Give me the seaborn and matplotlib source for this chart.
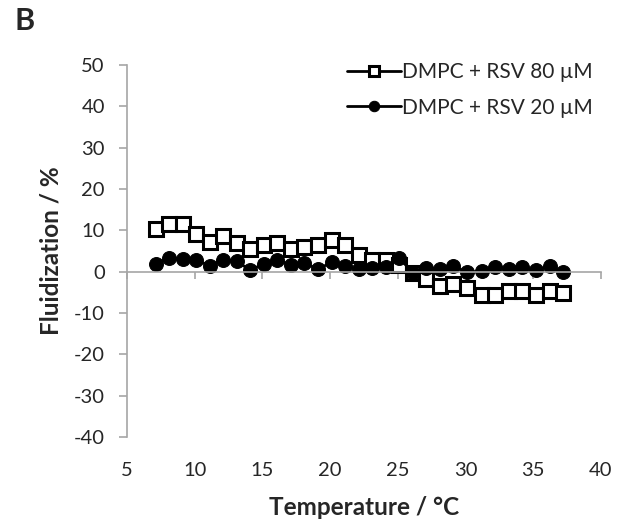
"""
Fluidization vs temperature, DMPC + RSV (panel B).
"""

import pandas as pd
import matplotlib
matplotlib.use("Agg")
import matplotlib.pyplot as plt
import seaborn as sns

# data
temperature = [7.1, 8.1, 9.1, 10.1, 11.1, 12.1, 13.1, 14.1, 15.1, 16.1,
               17.1, 18.1, 19.1, 20.1, 21.1, 22.1, 23.1, 24.1, 25.1, 26.1,
               27.1, 28.1, 29.1, 30.1, 31.2, 32.2, 33.2, 34.2, 35.2, 36.2, 37.2]
rsv80 = [10.2, 11.4, 11.4, 9.0, 7.1, 8.5, 6.9, 5.5, 6.5, 6.9,
         5.5, 6.0, 6.5, 7.7, 6.5, 4.1, 2.9, 2.7, 1.5, -0.4,
         -1.9, -3.4, -3.1, -3.9, -5.6, -5.6, -4.8, -4.8, -5.8, -4.8, -5.3]
rsv20 = [1.9, 3.3, 3.1, 2.9, 1.3, 2.9, 2.5, 0.3, 1.9, 2.9,
         1.5, 2.1, 0.5, 2.3, 1.3, 0.5, 0.9, 1.0, 3.3, -0.3,
         0.9, 0.5, 1.3, -0.2, 0.1, 1.1, 0.7, 1.0, 0.3, 1.3, -0.2]
labels = ["DMPC + RSV 80 µM", "DMPC + RSV 20 µM"]
xticks = [5, 10, 15, 20, 25, 30, 35, 40]
yticks = [-40, -30, -20, -10, 0, 10, 20, 30, 40, 50]

sns.set_style("white")
plt.rcParams["font.family"] = ["Lato", "DejaVu Sans"]
plt.rcParams["axes.unicode_minus"] = False

df = pd.DataFrame({"T": temperature, "a": rsv80, "b": rsv20})

fig = plt.figure(figsize=(6.17, 5.27), dpi=100)
ax = fig.add_axes([0.206, 0.171, 0.768, 0.706])

sns.lineplot(data=df, x="T", y="a", ax=ax, color="black", lw=2,
             marker="s", ms=10, mfc="white", mec="black", mew=2.2,
             label=labels[0])
sns.lineplot(data=df, x="T", y="b", ax=ax, color="black", lw=2,
             marker="o", ms=10, mfc="black", mec="black",
             label=labels[1])

ax.set_xlim(5, 40)
ax.set_ylim(-40, 50)
ax.set_yticks(yticks)
ax.set_xticks(xticks)

grey = "#a6a6a6"
for s in ["top", "right"]:
    ax.spines[s].set_visible(False)
ax.spines["left"].set_color(grey)
ax.spines["left"].set_linewidth(1.2)
ax.spines["bottom"].set_position(("data", 0))
ax.spines["bottom"].set_color(grey)
ax.spines["bottom"].set_linewidth(1.2)
ax.tick_params(axis="y", direction="out", length=6, width=1.2, color=grey,
               labelsize=14.5, pad=10, left=True)
ax.tick_params(axis="x", direction="out", length=5, width=1.2, color=grey,
               labelbottom=False, bottom=True)

# tick labels sit below the plot, as in the original
sec = ax.secondary_xaxis("bottom")
sec.set_xticks(xticks)
sec.spines["bottom"].set_visible(False)
sec.tick_params(length=0, labelsize=14.5, pad=18)

ax.set_ylabel("Fluidization / %", fontsize=17.5, fontweight="bold", labelpad=8)
sec.set_xlabel("Temperature / °C", fontsize=17.5, fontweight="bold", labelpad=12)
ax.set_xlabel("")

ax.legend(loc="upper right", bbox_to_anchor=(1.0, 1.03), frameon=False,
          fontsize=15, handlelength=2.6, handletextpad=0.05,
          labelspacing=0.75, markerscale=0.75, borderaxespad=0)

fig.text(0.023, 0.96, "B", fontsize=22, fontweight="bold", va="center")

fig.savefig("out.png", dpi=100)
